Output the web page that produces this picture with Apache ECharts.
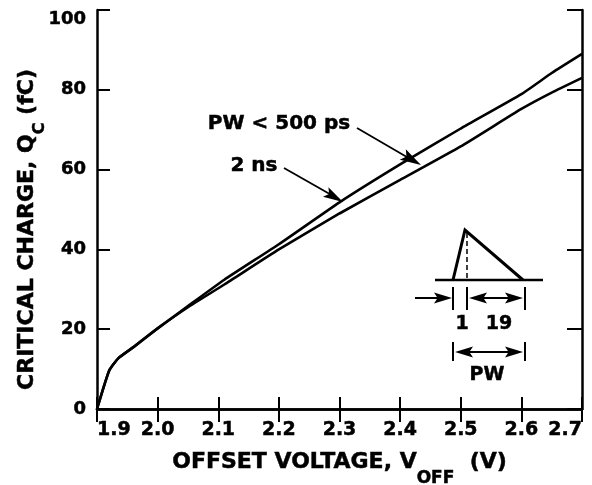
<!DOCTYPE html>
<html>
<head>
<meta charset="utf-8">
<script src="https://cdn.jsdelivr.net/npm/echarts@6/dist/echarts.min.js"></script>
<style>
html,body{margin:0;padding:0;background:#fff;}
#chart{width:592px;height:485px;}
</style>
</head>
<body>
<div id="chart"></div>
<script>
// ---- data ----
const offsetVoltage = [1.9, 1.92, 1.935, 1.96, 2.0, 2.05, 2.11, 2.2, 2.3, 2.4, 2.5, 2.6, 2.65, 2.7];
const charge2ns     = [0, 9.6, 12.7, 15.5, 20.2, 25.8, 32.4, 41.3, 51.8, 61.3, 70.3, 78.9, 84.2, 89.0];
const chargePW500   = [0, 9.6, 12.7, 15.5, 20.2, 25.5, 31.2, 40.0, 49.0, 57.4, 65.8, 75.2, 79.3, 83.0];
const xTicks = [1.9, 2.0, 2.1, 2.2, 2.3, 2.4, 2.5, 2.6, 2.7];
const yTicks = [0, 20, 40, 60, 80, 100];
const seriesNames = ['2 ns', 'PW < 500 ps'];

const FONT = 'DejaVu Sans';
const chart = echarts.init(document.getElementById('chart'), null, {renderer: 'canvas'});

function pairs(xs, ys) { return xs.map((x, i) => [x, ys[i]]); }

const axisLine = {show: true, lineStyle: {color: '#000', width: 2.5}};
const labelStyle = {color: '#000', fontFamily: FONT, fontWeight: 'bold', textBorderColor: '#000', textBorderWidth: 0.5};

// ---- annotation helpers (pixel drawing of arrows / inset) ----
function seg(x1, y1, x2, y2, w, dash) {
  return {type: 'line', shape: {x1, y1, x2, y2},
    style: {stroke: '#000', lineWidth: w, lineDash: dash || null, lineCap: 'butt'}, z: 10};
}
function head(tx, ty, fx, fy, len, wid) {
  const dx = tx - fx, dy = ty - fy, d = Math.hypot(dx, dy);
  const ux = dx / d, uy = dy / d, px = -uy, py = ux;
  const bx = tx - ux * len, by = ty - uy * len;
  return {type: 'polygon', shape: {points: [[tx, ty], [bx + px * wid / 2, by + py * wid / 2], [bx + ux * len * 0.2, by + uy * len * 0.2], [bx - px * wid / 2, by - py * wid / 2]]},
    style: {fill: '#000'}, z: 10};
}
function txt(x, y, s, size) {
  return {type: 'text', x, y, style: {text: s, fill: '#000', stroke: '#000', lineWidth: 0.5, font: 'bold ' + size + 'px "' + FONT + '"', align: 'center', verticalAlign: 'middle'}, z: 10};
}

const graphics = [
  // curve labels
  txt(254, 166, '2 ns', 20),
  seg(284, 168, 335, 197, 1.8), head(343, 202, 284, 168, 20, 11),
  txt(279, 124, 'PW < 500 ps', 20),
  seg(357, 128, 412, 160, 1.8), head(421, 165, 357, 128, 21, 12),
  // inset pulse
  seg(435, 280, 543, 280, 2.5),
  {type: 'polyline', shape: {points: [[453, 280], [465, 230], [523, 280]]}, style: {stroke: '#000', lineWidth: 3, fill: null, lineJoin: 'miter'}, z: 10},
  seg(467, 233, 467, 279, 1.5, [5, 3]),
  seg(415, 298, 440, 298, 2), head(452, 298, 415, 298, 18, 11),
  seg(453, 287, 453, 310, 2), seg(467, 287, 467, 310, 2), seg(525, 287, 525, 310, 2),
  seg(480, 298, 512, 298, 2), head(469, 298, 500, 298, 18, 11), head(523, 298, 490, 298, 18, 11),
  txt(462, 324, '1', 19), txt(499, 324, '19', 19),
  seg(453, 342, 453, 361, 2), seg(525, 342, 525, 361, 2),
  seg(468, 352, 510, 352, 2), head(455, 352, 490, 352, 18, 11), head(523, 352, 490, 352, 18, 11),
  txt(487, 375, 'PW', 19)
];

const nameBase = {fontFamily: FONT, fontWeight: 'bold', color: '#000', textBorderColor: '#000', textBorderWidth: 0.5, verticalAlign: 'bottom'};

const option = {
  backgroundColor: '#fff',
  animation: false,
  grid: {left: 97, right: 10, top: 10, bottom: 76, containLabel: false, outerBoundsMode: 'none'},
  xAxis: [
    {
      type: 'value', position: 'bottom',
      min: xTicks[0], max: xTicks[xTicks.length - 1], interval: 0.1,
      axisLine: axisLine,
      axisTick: {show: true, inside: true, length: 12, lineStyle: {color: '#000', width: 2}},
      axisLabel: Object.assign({fontSize: 19, margin: 12, alignMinLabel: 'left', alignMaxLabel: 'right',
        formatter: v => v.toFixed(1)}, labelStyle),
      splitLine: {show: false},
      name: '{m|OFFSET VOLTAGE, V}{s|OFF}{m|  (V)}',
      nameLocation: 'middle', nameGap: 54, nameMoveOverlap: false,
      nameTextStyle: {
        rich: {
          m: Object.assign({fontSize: 22, lineHeight: 24, padding: [0, 0, 14, 0]}, nameBase),
          s: Object.assign({fontSize: 17, lineHeight: 20}, nameBase)
        }
      }
    },
    {
      type: 'value', position: 'top',
      min: xTicks[0], max: xTicks[xTicks.length - 1], interval: 0.1,
      axisLine: axisLine,
      axisTick: {show: true, inside: true, length: 13, lineStyle: {color: '#000', width: 2}},
      axisLabel: {show: false}, splitLine: {show: false}
    }
  ],
  yAxis: [
    {
      type: 'value', position: 'left',
      min: yTicks[0], max: yTicks[yTicks.length - 1], interval: 20,
      axisLine: axisLine,
      axisTick: {show: true, inside: true, length: 13, lineStyle: {color: '#000', width: 2}},
      axisLabel: Object.assign({fontSize: 18, margin: 11, verticalAlignMaxLabel: 'top'}, labelStyle),
      splitLine: {show: false},
      name: '{m|CRITICAL CHARGE, Q}{s|C}{m| (fC)}',
      nameLocation: 'middle', nameGap: 49, nameMoveOverlap: false,
      nameTextStyle: {
        padding: [0, 40, 0, 0],
        rich: {
          m: Object.assign({fontSize: 22, lineHeight: 24, padding: [0, 0, 10, 0]}, nameBase),
          s: Object.assign({fontSize: 16, lineHeight: 18}, nameBase)
        }
      }
    },
    {
      type: 'value', position: 'right',
      min: yTicks[0], max: yTicks[yTicks.length - 1], interval: 20,
      axisLine: axisLine,
      axisTick: {show: true, inside: true, length: 15, lineStyle: {color: '#000', width: 2}},
      axisLabel: {show: false}, splitLine: {show: false}
    }
  ],
  series: [
    {name: seriesNames[0], type: 'line', xAxisIndex: 0, yAxisIndex: 0, data: pairs(offsetVoltage, charge2ns),
      symbol: 'none', smooth: 0.15, lineStyle: {color: '#000', width: 2.6}},
    {name: seriesNames[1], type: 'line', xAxisIndex: 0, yAxisIndex: 0, data: pairs(offsetVoltage, chargePW500),
      symbol: 'none', smooth: 0.15, lineStyle: {color: '#000', width: 2.6}}
  ],
  graphic: graphics
};
chart.setOption(option);
</script>
</body>
</html>
